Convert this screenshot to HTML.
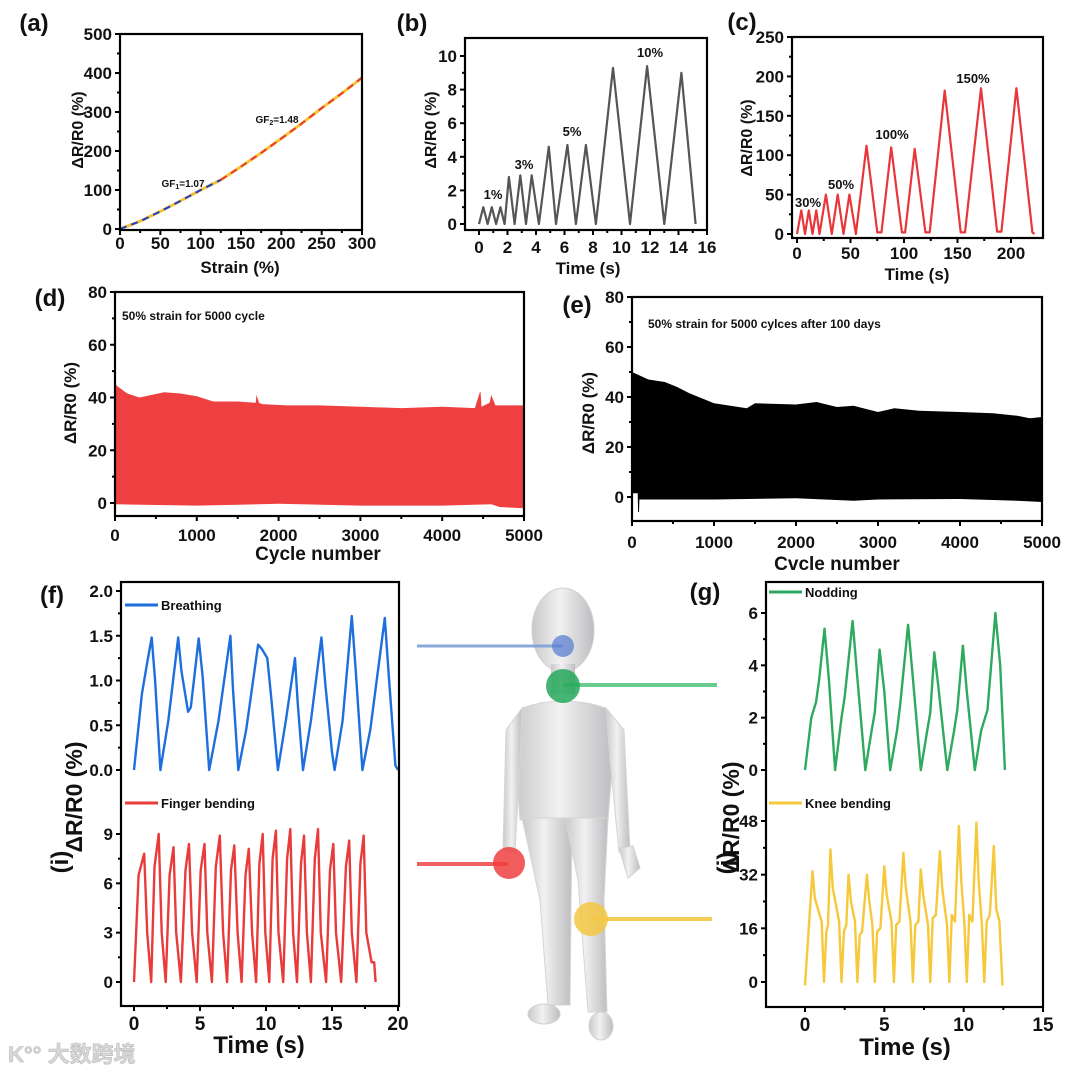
<!DOCTYPE html>
<html><head><meta charset="utf-8"><style>
html,body{margin:0;padding:0;background:#fff;}
svg{display:block;font-family:"Liberation Sans",Arial,sans-serif;font-weight:bold;}
</style></head><body>
<svg id="fig" width="1080" height="1076" viewBox="0 0 1080 1076" xmlns="http://www.w3.org/2000/svg">
<defs>
<linearGradient id="skin" x1="0" x2="1" y1="0" y2="0">
<stop offset="0" stop-color="#c9c9cb"/><stop offset="0.45" stop-color="#f1f1f2"/><stop offset="1" stop-color="#bdbdc0"/>
</linearGradient>
</defs>
<g id="human">
<ellipse cx="563" cy="630" rx="31" ry="42" fill="url(#skin)" stroke="#d0d0d0"/>
<rect x="551" y="664" width="24" height="30" fill="url(#skin)"/>
<path d="M522,708 Q563,694 606,708 L614,745 L608,820 L520,820 L514,745 Z" fill="url(#skin)" stroke="#d5d5d5"/>
<path d="M522,708 L506,730 L503,850 L515,852 L520,760 Z" fill="url(#skin)" stroke="#d5d5d5"/>
<path d="M606,708 L624,730 L630,850 L619,852 L610,760 Z" fill="url(#skin)" stroke="#d5d5d5"/>
<path d="M619,848 L633,846 L640,868 L628,878 Z" fill="url(#skin)" stroke="#d0d0d0"/>
<path d="M522,818 L572,818 L570,1005 L548,1005 L540,900 Z" fill="url(#skin)" stroke="#d5d5d5"/>
<path d="M565,818 L608,818 L604,900 L607,1012 L588,1012 L578,880 Z" fill="url(#skin)" stroke="#d5d5d5"/>
<ellipse cx="544" cy="1014" rx="16" ry="10" fill="url(#skin)" stroke="#d0d0d0"/>
<ellipse cx="601" cy="1026" rx="12" ry="14" fill="url(#skin)" stroke="#d0d0d0"/>
</g>
<g>
<line x1="417" y1="646" x2="563" y2="646" stroke="#7f9fd8" stroke-width="3" opacity="0.9"/>
<circle cx="563" cy="646" r="11" fill="#5b7fd0" opacity="0.75"/>
<line x1="563" y1="685" x2="717" y2="685" stroke="#4cc27a" stroke-width="4" opacity="0.85"/>
<circle cx="563" cy="686" r="17" fill="#26a85a" opacity="0.85"/>
<line x1="417" y1="864" x2="508" y2="864" stroke="#ef5050" stroke-width="4" opacity="0.9"/>
<circle cx="509" cy="863" r="16" fill="#ee4040" opacity="0.85"/>
<line x1="591" y1="919" x2="712" y2="919" stroke="#f5c842" stroke-width="4" opacity="0.9"/>
<circle cx="591" cy="919" r="17" fill="#f5c842" opacity="0.85"/>
</g>
<text x="8" y="1062" font-size="22" fill="#d8d8d8" stroke="#bbb" stroke-width="0.6" font-family="'Liberation Sans','Noto Sans CJK SC',sans-serif">K°° 大数跨境</text>
</svg>
<script>
// ---------- DATA ----------
const aStrain=[0,25,50,75,100,125,150,175,200,225,250,275,300];
const aResp=[0,20,45,72,100,126,160,195,232,270,310,348,388];
const aSplitIdx=5;
const aXTicks=[0,50,100,150,200,250,300];
const aYTicks=[0,100,200,300,400,500];

const bTime=[0,0.3,0.6,0.9,1.2,1.5,1.8,2.1,2.5,2.9,3.3,3.7,4.2,4.9,5.4,6.2,6.8,7.5,8.2,9.4,10.6,11.8,13.0,14.2,15.2];
const bVal=[0,1,0,1,0,1,0,2.8,0,2.9,0,2.9,0,4.6,0,4.7,0,4.7,0,9.3,0,9.4,0,9.0,0];
const bXTicks=[0,2,4,6,8,10,12,14,16];
const bYTicks=[0,2,4,6,8,10];
const bNotes=["1%","3%","5%","10%"];

const cTime=[0,4,7.5,11,14.5,18,21,27,32.5,38,43.5,49,55,65,75,79,88,98,101,110,120,124,138,153,157,172,187,191,205,220,222];
const cVal=[0,30,0,30,0,30,0,50,0,50,0,50,0,112,2,2,110,2,2,108,2,2,182,2,2,185,3,3,185,2,0];
const cXTicks=[0,50,100,150,200];
const cYTicks=[0,50,100,150,200,250];
const cNotes=["30%","50%","100%","150%"];

const dCycTop=[0,40,150,300,450,600,800,1000,1200,1500,1720,1730,1760,1800,2100,2500,3000,3500,4000,4400,4460,4470,4480,4580,4600,4650,4800,5000];
const dTop=[45,44,41.5,40,41,42,41.5,40.5,38.5,38.5,38,41,38,37.5,37,37,36.5,36,36.5,36,42,42,36.5,38,41,37,37,37];
const dCycBot=[0,1000,2000,3000,4000,4600,4700,5000];
const dBot=[-0.5,-1,-0.3,-1,-1,-0.5,-1.5,-2];

const eCycTop=[0,100,200,400,550,700,850,1000,1200,1400,1500,2000,2250,2500,2700,3000,3200,3500,4000,4400,4700,4850,5000];
const eTop=[50,48.5,47,46,44,41.5,39.5,37.5,36.5,35.5,37.5,37,38,36,36.5,34,35.5,34.5,34,33.5,32.5,31.5,32];
const eCycBot=[0,70,75,85,90,1000,2000,2700,3000,4000,4700,5000];
const eBot=[1.5,1.5,-6,-6,-1,-1,-0.5,-1.5,-1,-0.8,-1.5,-2];

const dXTicks=[0,1000,2000,3000,4000,5000];
const dYTicks=[0,20,40,60,80];

const brTime=[0,0.6,1.0,1.34,1.6,2.0,2.6,3.35,3.6,4.1,4.3,4.9,5.2,5.7,6.4,7.3,7.5,7.9,8.5,9.4,9.7,10.1,10.4,10.9,11.5,12.2,12.4,12.8,13.4,14.2,14.5,15.0,15.2,15.8,16.5,16.8,17.3,17.9,19.0,19.3,19.8,20.0];
const brVal=[0,0.85,1.2,1.48,1.0,0,0.55,1.48,1.1,0.65,0.7,1.47,1.05,0,0.55,1.5,0.9,0,0.45,1.4,1.35,1.25,0.8,0,0.55,1.25,0.75,0,0.55,1.48,0.95,0.2,0,0.55,1.72,1.1,0,0.45,1.7,1.05,0.05,0];
const fiTime=[0,0.35,0.77,1.0,1.3,1.55,1.87,2.1,2.4,2.7,2.99,3.2,3.55,3.9,4.17,4.4,4.75,5.05,5.34,5.55,5.9,6.2,6.5,6.75,7.05,7.35,7.6,7.85,8.15,8.45,8.7,8.95,9.25,9.5,9.75,9.95,10.25,10.5,10.75,10.95,11.3,11.6,11.84,12.05,12.35,12.65,12.88,13.1,13.4,13.7,13.94,14.15,14.55,14.85,15.1,15.3,15.7,16.05,16.3,16.5,16.85,17.15,17.4,17.6,18.0,18.2,18.3];
const fiVal=[0,6.5,7.8,3,0,7,9.0,3,0,6.5,8.2,3,0,6.8,8.4,3,0,6.8,8.4,3,0,7,8.9,3,0,6.8,8.3,3,0,6.5,8.1,3,0,7.2,9.0,3,0,7.5,9.2,3,0,7.5,9.3,3,0,7.2,8.9,3,0,7.5,9.3,3,0,6.8,8.4,3,0,7,8.6,3,0,7.2,8.9,3,1.2,1.2,0];
const fXTicks=[0,5,10,15,20];
const brTicks=[0,0.5,1.0,1.5,2.0];
const fiTicks=[0,3,6,9];

const ndTime=[0,0.4,0.7,0.9,1.23,1.5,1.9,2.3,2.5,3.0,3.3,3.8,4.2,4.4,4.7,5.0,5.37,5.8,6.0,6.5,6.8,7.3,7.7,7.9,8.15,8.4,8.97,9.4,9.6,9.95,10.2,10.7,11.1,11.5,12.0,12.3,12.6];
const ndVal=[0,2.0,2.6,3.5,5.4,3.5,0,2.0,2.8,5.7,3.5,0,1.5,2.2,4.6,3.0,0,1.5,2.5,5.55,3.5,0,1.5,2.2,4.5,3.2,0,1.5,2.3,4.75,3.0,0,1.5,2.3,6.0,4.0,0];
const knTime=[0,0.47,0.62,1.05,1.2,1.35,1.45,1.6,1.75,2.15,2.3,2.45,2.6,2.74,2.9,3.15,3.3,3.45,3.6,3.9,4.05,4.25,4.4,4.55,4.75,5.0,5.15,5.45,5.6,5.75,5.95,6.2,6.35,6.65,6.8,6.95,7.15,7.3,7.45,7.75,7.9,8.05,8.25,8.5,8.65,8.95,9.1,9.25,9.45,9.7,9.85,10.05,10.2,10.35,10.55,10.8,10.95,11.15,11.3,11.45,11.65,11.9,12.05,12.25,12.45];
const knVal=[-1,33,25,18,0,15,17,39.5,28,18,0,15,17,32,24,18,0,14,15,32,24,17,0,15,16,34.5,26,18,0,17,18,38.5,28,18,0,17,18,33.5,26,17,0,19,20,39,28,17,0,20,18,46.5,30,17,0,20,18,47.5,30,17,0,18,20,40.5,22,18,-1];
const gXTicks=[0,5,10,15];
const ndTicks=[0,2,4,6];
const knTicks=[0,16,32,48];

// ---------- HELPERS ----------
const NS='http://www.w3.org/2000/svg';
const svg=document.getElementById('fig');
function mk(tag,name,inter,parent){
  const e=document.createElementNS(NS,tag);
  
  
  (parent||svg).appendChild(e);
  return e;
}
function lin(d0,d1,r0,r1){return v=>r0+(v-d0)/(d1-d0)*(r1-r0);}
function txt(name,x,y,s,size,anchor,rot,col){
  const t=mk('text',name,'false');
  t.setAttribute('x',x);t.setAttribute('y',y);t.setAttribute('font-size',size);
  t.setAttribute('text-anchor',anchor||'middle');t.setAttribute('fill',col||'#111');
  if(rot){t.setAttribute('transform','rotate(-90 '+x+' '+y+')');}
  t.textContent=s;return t;
}
function box(name,L,R,T,B){
  const r=mk('rect',name,'false');
  r.setAttribute('x',L);r.setAttribute('y',T);r.setAttribute('width',R-L);r.setAttribute('height',B-T);
  r.setAttribute('fill','none');r.setAttribute('stroke','#000');r.setAttribute('stroke-width','2.2');
}
function tick(name,x1,y1,x2,y2){
  const l=mk('line',name,'false');
  l.setAttribute('x1',x1);l.setAttribute('y1',y1);l.setAttribute('x2',x2);l.setAttribute('y2',y2);
  l.setAttribute('stroke','#000');l.setAttribute('stroke-width','2');
}
function xAxis(prefix,ticks,sx,B,labY,size,fmt){
  ticks.forEach((v,i)=>{
    tick(prefix+'-x-tick',sx(v),B,sx(v),B+5);
    if(i<ticks.length-1){const m=(sx(v)+sx(ticks[i+1]))/2;tick(prefix+'-x-minor-tick',m,B,m,B+3);}
    txt(prefix+'-x-tick-label',sx(v),labY,fmt?fmt(v):String(v),size);
  });
}
function yAxis(prefix,ticks,sy,L,size,fmt){
  ticks.forEach((v,i)=>{
    tick(prefix+'-y-tick',L,sy(v),L-5,sy(v));
    if(i<ticks.length-1){const m=(sy(v)+sy(ticks[i+1]))/2;tick(prefix+'-y-minor-tick',L,m,L-3,m);}
    txt(prefix+'-y-tick-label',L-8,sy(v)+6,fmt?fmt(v):String(v),size,'end');
  });
}
function line(name,xs,ys,sx,sy,col,w,dash){
  const p=mk('path',name,'false');
  p.setAttribute('d',xs.map((x,i)=>(i?'L':'M')+sx(x).toFixed(1)+','+sy(ys[i]).toFixed(1)).join(''));
  p.setAttribute('fill','none');p.setAttribute('stroke',col);p.setAttribute('stroke-width',w);
  p.setAttribute('stroke-linejoin','round');
  if(dash)p.setAttribute('stroke-dasharray',dash);
  return p;
}
function band(name,xt,yt,xb,yb,sx,sy,col){
  const p=mk('path',name,'false');
  let d=xt.map((x,i)=>(i?'L':'M')+sx(x).toFixed(1)+','+sy(yt[i]).toFixed(1)).join('');
  for(let i=xb.length-1;i>=0;i--){d+='L'+sx(xb[i]).toFixed(1)+','+sy(yb[i]).toFixed(1);}
  p.setAttribute('d',d+'Z');p.setAttribute('fill',col);
}
function legend(name,x,y,label,col){
  const l=mk('line',name+'-swatch','false');
  l.setAttribute('x1',x);l.setAttribute('y1',y);l.setAttribute('x2',x+33);l.setAttribute('y2',y);
  l.setAttribute('stroke',col);l.setAttribute('stroke-width','3');
  txt(name+'-label',x+36,y+5,label,13,'start');
}

// ---------- (a) ----------
{
  const sx=lin(0,300,120,362), sy=lin(0,500,229,34);
  line('a-fit-curve',aStrain,aResp,sx,sy,'#f7c531',3);
  line('a-gf1-dashed',aStrain.slice(0,aSplitIdx+1),aResp.slice(0,aSplitIdx+1),sx,sy,'#1f3fd0',2,'7,5');
  line('a-gf2-dashed',aStrain.slice(aSplitIdx),aResp.slice(aSplitIdx),sx,sy,'#e83a3a',2,'7,5');
  box('a-plot-frame',120,362,34,230);
  xAxis('a',aXTicks,sx,230,249,17);
  yAxis('a',aYTicks,sy,120,17);
  txt('a-x-axis-title',240,273,'Strain (%)',17);
  txt('a-y-axis-title',83,130,'ΔR/R0 (%)',16,'middle',true);
  txt('a-panel-label',34,31,'(a)',24);
  const g1=txt('a-gf1-label',183,187,'GF',10);g1.innerHTML='GF<tspan font-size="7" dy="2">1</tspan><tspan dy="-2">=1.07</tspan>';
  const g2=txt('a-gf2-label',277,123,'GF',10);g2.innerHTML='GF<tspan font-size="7" dy="2">2</tspan><tspan dy="-2">=1.48</tspan>';
}
// ---------- (b) ----------
{
  const sx=lin(0,16,479,707), sy=lin(0,10,224,56);
  line('b-signal-line',bTime,bVal,sx,sy,'#555',2.2);
  box('b-plot-frame',465,707,38,230);
  xAxis('b',bXTicks,sx,230,253,17);
  yAxis('b',bYTicks,sy,465,17);
  txt('b-x-axis-title',588,274,'Time (s)',17);
  txt('b-y-axis-title',436,130,'ΔR/R0 (%)',16,'middle',true);
  txt('b-panel-label',412,31,'(b)',24);
  txt('b-note-1',493,199,bNotes[0],13);
  txt('b-note-3',524,169,bNotes[1],13);
  txt('b-note-5',572,136,bNotes[2],13);
  txt('b-note-10',650,57,bNotes[3],13);
}
// ---------- (c) ----------
{
  const sx=lin(0,200,797,1011), sy=lin(0,250,234,37);
  line('c-signal-line',cTime,cVal,sx,sy,'#e8363a',2.2);
  box('c-plot-frame',792,1043,37,238);
  xAxis('c',cXTicks,sx,238,259,17);
  yAxis('c',cYTicks,sy,792,17);
  txt('c-x-axis-title',917,280,'Time (s)',17);
  txt('c-y-axis-title',752,138,'ΔR/R0 (%)',16,'middle',true);
  txt('c-panel-label',742,30,'(c)',24);
  txt('c-note-30',808,207,cNotes[0],13);
  txt('c-note-50',841,189,cNotes[1],13);
  txt('c-note-100',892,139,cNotes[2],13);
  txt('c-note-150',973,83,cNotes[3],13);
}
// ---------- (d) ----------
{
  const sx=lin(0,5000,115,524), sy=lin(0,80,503,292);
  band('d-cycle-band',dCycTop,dTop,dCycBot,dBot,sx,sy,'#ee4040');
  box('d-plot-frame',115,524,292,516);
  xAxis('d',dXTicks,sx,516,541,17);
  yAxis('d',dYTicks,sy,115,17);
  txt('d-x-axis-title',318,560,'Cycle number',19);
  txt('d-y-axis-title',76,403,'ΔR/R0 (%)',17,'middle',true);
  txt('d-panel-label',50,306,'(d)',24);
  txt('d-annotation',122,320,'50% strain for 5000 cycle',12,'start');
}
// ---------- (e) ----------
{
  const sx=lin(0,5000,632,1042), sy=lin(0,80,497,297);
  band('e-cycle-band',eCycTop,eTop,eCycBot,eBot,sx,sy,'#000');
  box('e-plot-frame',632,1042,297,521);
  xAxis('e',dXTicks,sx,521,548,17);
  yAxis('e',dYTicks,sy,632,17);
  txt('e-x-axis-title',837,570,'Cvcle number',19);
  txt('e-y-axis-title',594,413,'ΔR/R0 (%)',17,'middle',true);
  txt('e-panel-label',577,313,'(e)',24);
  txt('e-annotation',648,328,'50% strain for 5000 cylces after 100 days',12,'start');
}
// ---------- (f)/(i) ----------
{
  const sx=lin(0,20,134,398), syB=lin(0,2,770,591), syF=lin(0,9,982,834);
  line('f-breathing-line',brTime,brVal,sx,syB,'#1e6fdc',2.4);
  line('i-finger-line',fiTime,fiVal,sx,syF,'#ea3b3b',2.4);
  box('f-plot-frame',121,399,582,1006);
  xAxis('f',fXTicks,sx,1006,1030,19);
  yAxis('f-breathing',brTicks,syB,121,17,v=>v.toFixed(1));
  yAxis('i-finger',fiTicks,syF,121,17);
  legend('f-legend-breathing',125,605,'Breathing','#1e6fdc');
  legend('i-legend-finger',125,803,'Finger bending','#ea3b3b');
  txt('f-x-axis-title',259,1053,'Time (s)',24);
  txt('f-y-axis-title',82,797,'ΔR/R0 (%)',23,'middle',true);
  txt('f-panel-label',52,603,'(f)',24);
  txt('i-panel-label',68,862,'(i)',24,'middle',true);
}
// ---------- (g)/(j) ----------
{
  const sx=lin(0,15,805,1043), syN=lin(0,6,770,613), syK=lin(0,48,982,821);
  line('g-nodding-line',ndTime,ndVal,sx,syN,'#2daa5e',2.4);
  line('j-knee-line',knTime,knVal,sx,syK,'#f5c93b',2.4);
  box('g-plot-frame',766,1043,582,1007);
  xAxis('g',gXTicks,sx,1007,1031,19);
  yAxis('g-nodding',ndTicks,syN,766,17);
  yAxis('j-knee',knTicks,syK,766,17);
  legend('g-legend-nodding',769,592,'Nodding','#2daa5e');
  legend('j-legend-knee',769,803,'Knee bending','#f5c93b');
  txt('g-x-axis-title',905,1055,'Time (s)',24);
  txt('g-y-axis-title',739,817,'ΔR/R0 (%)',23,'middle',true);
  txt('g-panel-label',705,600,'(g)',24);
  txt('j-panel-label',734,863,'(j)',24,'middle',true);
}
</script>
</body></html>
